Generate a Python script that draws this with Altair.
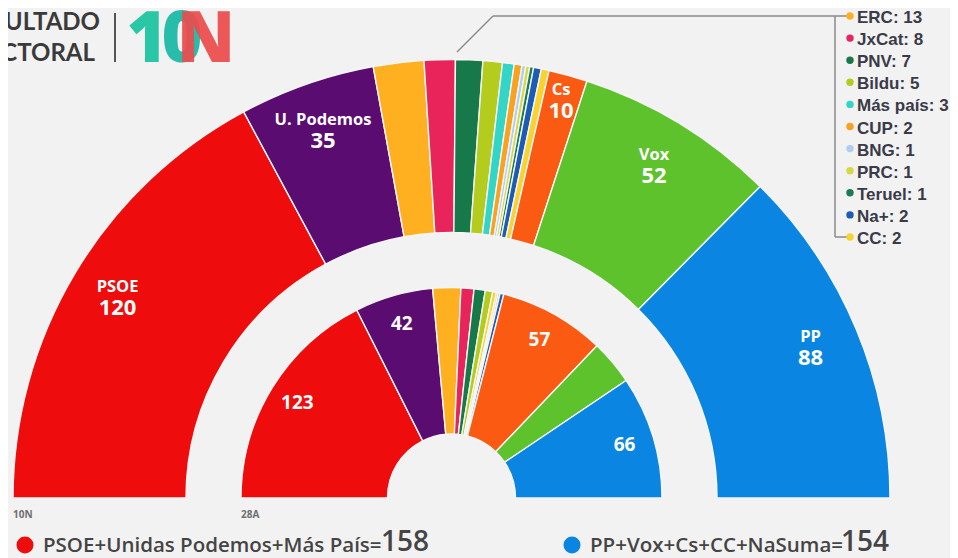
import math
import altair as alt
import pandas as pd

# ---------------- data ----------------
outer_party = ["PSOE", "U. Podemos", "ERC", "JxCat", "PNV", "Bildu", "Más país", "CUP",
               "BNG", "PRC", "Teruel", "Na+", "CC", "Cs", "Vox", "PP"]
outer_seats = [120, 35, 13, 8, 7, 5, 3, 2, 1, 1, 1, 2, 2, 10, 52, 88]
outer_labeled = ["PSOE", "U. Podemos", "Cs", "Vox", "PP"]

inner_party = ["PSOE", "U. Podemos", "ERC", "JxCat", "PNV", "Bildu", "CC", "PRC",
               "Compromís", "Na+", "Cs", "Vox", "PP"]
inner_seats = [123, 42, 15, 7, 6, 4, 2, 1, 1, 2, 57, 24, 66]
inner_labeled = ["PSOE", "U. Podemos", "Cs", "PP"]

party_domain = ["PSOE", "U. Podemos", "ERC", "JxCat", "PNV", "Bildu", "Más país", "CUP",
                "BNG", "PRC", "Teruel", "Na+", "CC", "Compromís", "Cs", "Vox", "PP"]
party_colors = ["#ee0c0c", "#5a0c70", "#ffb020", "#e8245a", "#17784a", "#b3cc1d", "#33d6c6",
                "#f8a220", "#b0cdf2", "#d4d944", "#1e7a52", "#1d5cb4", "#f8d22e", "#f39a3a",
                "#fb5a12", "#5ec22c", "#0a86e2"]

legend_party = ["ERC", "JxCat", "PNV", "Bildu", "Más país", "CUP", "BNG", "PRC", "Teruel", "Na+", "CC"]
legend_seats = [13, 8, 7, 5, 3, 2, 1, 1, 1, 2, 2]

left_bloc_text = "PSOE+Unidas Podemos+Más País="
left_bloc_total = "158"
right_bloc_text = "PP+Vox+Cs+CC+NaSuma="
right_bloc_total = "154"
ring_labels = ["10N", "28A"]
TOTAL = 350

# ---------------- layout ----------------
CX, CY = 443.5, 490
W, H = 942, 550

color_scale = alt.Scale(domain=party_domain, range=party_colors)
theta_scale = alt.Scale(domain=[0, TOTAL], range=[1.5 * math.pi, 2.5 * math.pi])
one = pd.DataFrame({"a": [0]})


def ring_df(parties, seats, labeled):
    return pd.DataFrame({
        "party": parties,
        "seats": seats,
        "idx": list(range(len(parties))),
        "name": [p if p in labeled else "" for p in parties],
        "num": [str(s) if p in labeled else "" for p, s in zip(parties, seats)],
    })


def ring_base(df):
    return (alt.Chart(df)
            .transform_stack(stack="seats", groupby=[], as_=["s0", "s1"],
                             sort=[alt.SortField("idx", order="ascending")])
            .transform_calculate(mid="(datum.s0 + datum.s1) / 2"))


def arcs(base, r_out, r_in):
    return base.mark_arc(outerRadius=r_out, innerRadius=r_in, stroke="#f6f6f6",
                         strokeWidth=1.4).encode(
        theta=alt.Theta("s0:Q", scale=theta_scale),
        theta2="s1:Q",
        color=alt.Color("party:N", scale=color_scale, legend=None),
        x=alt.value(CX), y=alt.value(CY),
    )


def labels(base, field, r, dy, size, flt=None):
    b = base.transform_filter(flt) if flt else base
    return b.mark_text(radius=r, dy=dy, font="Open Sans", fontWeight="bold",
                       fontSize=size, color="white").encode(
        theta=alt.Theta("mid:Q", scale=theta_scale),
        text=alt.Text(f"{field}:N"),
        x=alt.value(CX), y=alt.value(CY),
    )


outer_base = ring_base(ring_df(outer_party, outer_seats, outer_labeled))
inner_base = ring_base(ring_df(inner_party, inner_seats, inner_labeled))

not_cs = "datum.party != 'Cs'"
is_cs = "datum.party == 'Cs'"
layers = [
    arcs(outer_base, 438.5, 265.5),
    arcs(inner_base, 210.5, 64),
    labels(outer_base, "name", 389, -11, 16.5, not_cs),
    labels(outer_base, "num", 389, 10, 22, not_cs),
    labels(outer_base, "name", 412, -11, 16.5, is_cs),
    labels(outer_base, "num", 412, 10, 22, is_cs),
    labels(inner_base, "num", 181, 0, 19),
]

# ring captions
for txt, xpos in zip(ring_labels, [5, 233]):
    layers.append(alt.Chart(one).mark_text(align="left", baseline="middle", font="Open Sans",
                                           fontWeight="bold", fontSize=10, color="#6f6f6f")
                  .encode(x=alt.value(xpos), y=alt.value(507), text=alt.value(txt)))

# header
layers.append(alt.Chart(one).mark_text(align="right", baseline="alphabetic", font="Lato",
                                       fontWeight="bold", fontSize=24, color="#3a3a3a")
              .encode(x=alt.value(92), y=alt.value(22), text=alt.value("RESULTADO")))
layers.append(alt.Chart(one).mark_text(align="right", baseline="alphabetic", font="Lato",
                                       fontWeight="bold", fontSize=24, color="#3a3a3a")
              .encode(x=alt.value(87), y=alt.value(53), text=alt.value("ELECTORAL")))
layers.append(alt.Chart(one).mark_rule(color="#555555", strokeWidth=2)
              .encode(x=alt.value(107), y=alt.value(5), y2=alt.value(54)))
for ch, xpos, col in [("1", 139, "#19c4a0"), ("0", 174, "#17b8a6"), ("N", 198, "#ec4c4c")]:
    layers.append(alt.Chart(one).mark_text(align="center", baseline="alphabetic", font="Open Sans",
                                           fontWeight=800, fontSize=70, color=col, opacity=0.92)
                  .encode(x=alt.value(xpos), y=alt.value(54), text=alt.value(ch)))

# callout lines to the small-party list
line_col = "#8a8a8a"
layers.append(alt.Chart(one).mark_rule(color=line_col, strokeWidth=1.5)
              .encode(x=alt.value(449), y=alt.value(44), x2=alt.value(485), y2=alt.value(8)))
layers.append(alt.Chart(one).mark_rule(color=line_col, strokeWidth=1.5)
              .encode(x=alt.value(485), x2=alt.value(842), y=alt.value(8)))
layers.append(alt.Chart(one).mark_rule(color=line_col, strokeWidth=1.5)
              .encode(x=alt.value(827), y=alt.value(8), y2=alt.value(229)))
layers.append(alt.Chart(one).mark_rule(color=line_col, strokeWidth=1.5)
              .encode(x=alt.value(827), x2=alt.value(842), y=alt.value(229)))

legend_df = pd.DataFrame({"party": legend_party, "seats": legend_seats})
legend_df["lbl"] = [f"{p}: {s}" for p, s in zip(legend_party, legend_seats)]
y_leg = alt.Y("party:N", scale=alt.Scale(domain=legend_party, range=[8, 229], padding=0),
              axis=None, sort=None)
layers.append(alt.Chart(legend_df).mark_circle(size=55, opacity=1).encode(
    x=alt.value(842), y=y_leg, color=alt.Color("party:N", scale=color_scale, legend=None)))
layers.append(alt.Chart(legend_df).mark_text(align="left", baseline="middle", font="Liberation Sans",
                                             fontWeight="bold", fontSize=17, color="#3a3a48", dy=2)
              .encode(x=alt.value(849), y=y_leg, text="lbl:N"))

# bloc totals at the bottom
for dot_x, txt, tot, tot_x, col in [
    (17, left_bloc_text, left_bloc_total, 373, "#ee0c0c"),
    (564, right_bloc_text, right_bloc_total, 833, "#0a86e2"),
]:
    layers.append(alt.Chart(one).mark_circle(size=290, opacity=1, color=col)
                  .encode(x=alt.value(dot_x), y=alt.value(537)))
    layers.append(alt.Chart(one).mark_text(align="left", baseline="middle", font="Open Sans",
                                           fontWeight=600, fontSize=20.5, color="#444444")
                  .encode(x=alt.value(dot_x + 18), y=alt.value(538), text=alt.value(txt)))
    layers.append(alt.Chart(one).mark_text(align="left", baseline="middle", font="Open Sans",
                                           fontWeight=600, fontSize=28, color="#444444")
                  .encode(x=alt.value(tot_x), y=alt.value(535), text=alt.value(tot)))

chart = (alt.layer(*layers)
         .properties(width=W, height=H, padding=0, background="#f2f2f2",
                     autosize=alt.AutoSizeParams(type="none"))
         .configure_view(strokeWidth=0))

chart.save("out.html", embed_options={"renderer": "svg", "actions": False})
